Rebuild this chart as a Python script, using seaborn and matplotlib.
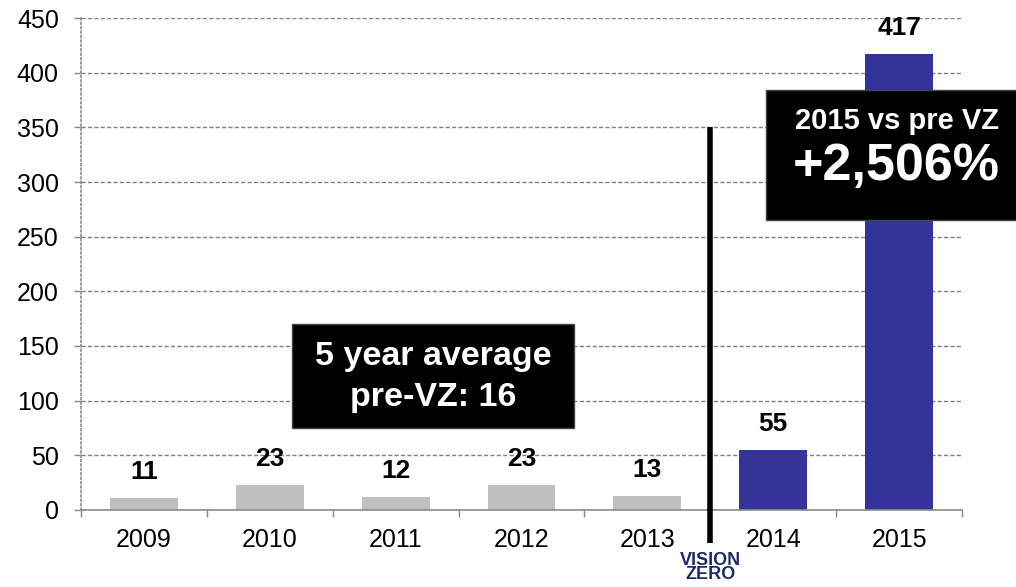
import pandas as pd
import seaborn as sns
import matplotlib.pyplot as plt
from matplotlib.patches import Rectangle

# chart data
years = ['2009', '2010', '2011', '2012', '2013', '2014', '2015']
counts = [11, 23, 12, 23, 13, 55, 417]
period = ['pre', 'pre', 'pre', 'pre', 'pre', 'post', 'post']
yticks = list(range(0, 451, 50))

df = pd.DataFrame({'year': years, 'count': counts, 'period': period})

sns.set_theme(style='white')
plt.rcParams['font.family'] = ['Liberation Sans', 'DejaVu Sans']

fig = plt.figure(figsize=(10.16, 5.87), dpi=100)
ax = fig.add_axes([0.0797, 0.1312, 0.8672, 0.8381])

sns.barplot(data=df, x='year', y='count', hue='period',
            palette={'pre': '#bfbfbf', 'post': '#333399'}, saturation=1,
            width=0.54, dodge=False, legend=False, linewidth=0, ax=ax, zorder=2)

# value labels on top of the bars
for c in ax.containers:
    ax.bar_label(c, fmt='%d', padding=10, fontsize=19, fontweight='bold', color='black')

ax.set_ylim(0, 450)
ax.set_xlim(-0.5, 6.5)
ax.set_yticks(yticks)
ax.set_xlabel('')
ax.set_ylabel('')
ax.tick_params(axis='y', labelsize=18, length=5, width=1, color='#888888',
               direction='out', left=True, pad=11, labelcolor='black')
ax.tick_params(axis='x', labelsize=18, length=0, pad=13, labelcolor='black')
ax.set_xticks([i + 0.5 for i in range(-1, 7)], minor=True)
ax.tick_params(axis='x', which='minor', length=5, width=1, color='#888888',
               direction='out', bottom=True)

# dashed grid
ax.yaxis.grid(True, linestyle=(0, (3, 1.6)), color='#808080', linewidth=1, zorder=0)
ax.set_axisbelow(True)

for s in ['top', 'right']:
    ax.spines[s].set_visible(False)
ax.spines['left'].set_linestyle(':')
ax.spines['left'].set_color('#8c8c8c')
ax.spines['left'].set_linewidth(1.2)
ax.spines['bottom'].set_color('#8c8c8c')
ax.spines['bottom'].set_linewidth(1.2)

# Vision Zero divider line
ax.plot([4.5, 4.5], [-30, 350], color='black', linewidth=4,
        clip_on=False, zorder=5, solid_capstyle='butt')
ax.text(4.5, -38, 'VISION\nZERO', ha='center', va='top', fontsize=13,
        fontweight='heavy', color='#1c2a6a', linespacing=0.8, clip_on=False)

# pre-VZ average box
ax.add_patch(Rectangle((1.18, 75), 2.24, 95, facecolor='black',
                       edgecolor='#444444', zorder=6, clip_on=False))
ax.text(2.30, 132.6, '5 year average', ha='center', va='baseline', fontsize=24.5,
        fontweight='bold', color='white', zorder=7)
ax.text(2.30, 95, 'pre-VZ: 16', ha='center', va='baseline', fontsize=24.5,
        fontweight='bold', color='white', zorder=7)

# 2015 comparison box
ax.add_patch(Rectangle((4.94, 265), 2.1, 119, facecolor='black',
                       edgecolor='#444444', zorder=6, clip_on=False))
ax.text(5.98, 348.5, '2015 vs pre VZ', ha='center', va='baseline', fontsize=21,
        fontweight='bold', color='white', zorder=7, clip_on=False)
ax.text(5.98, 302, '+2,506%', ha='center', va='baseline', fontsize=37.5,
        fontweight='bold', color='white', zorder=7, clip_on=False)

fig.savefig('out.png', dpi=100)
